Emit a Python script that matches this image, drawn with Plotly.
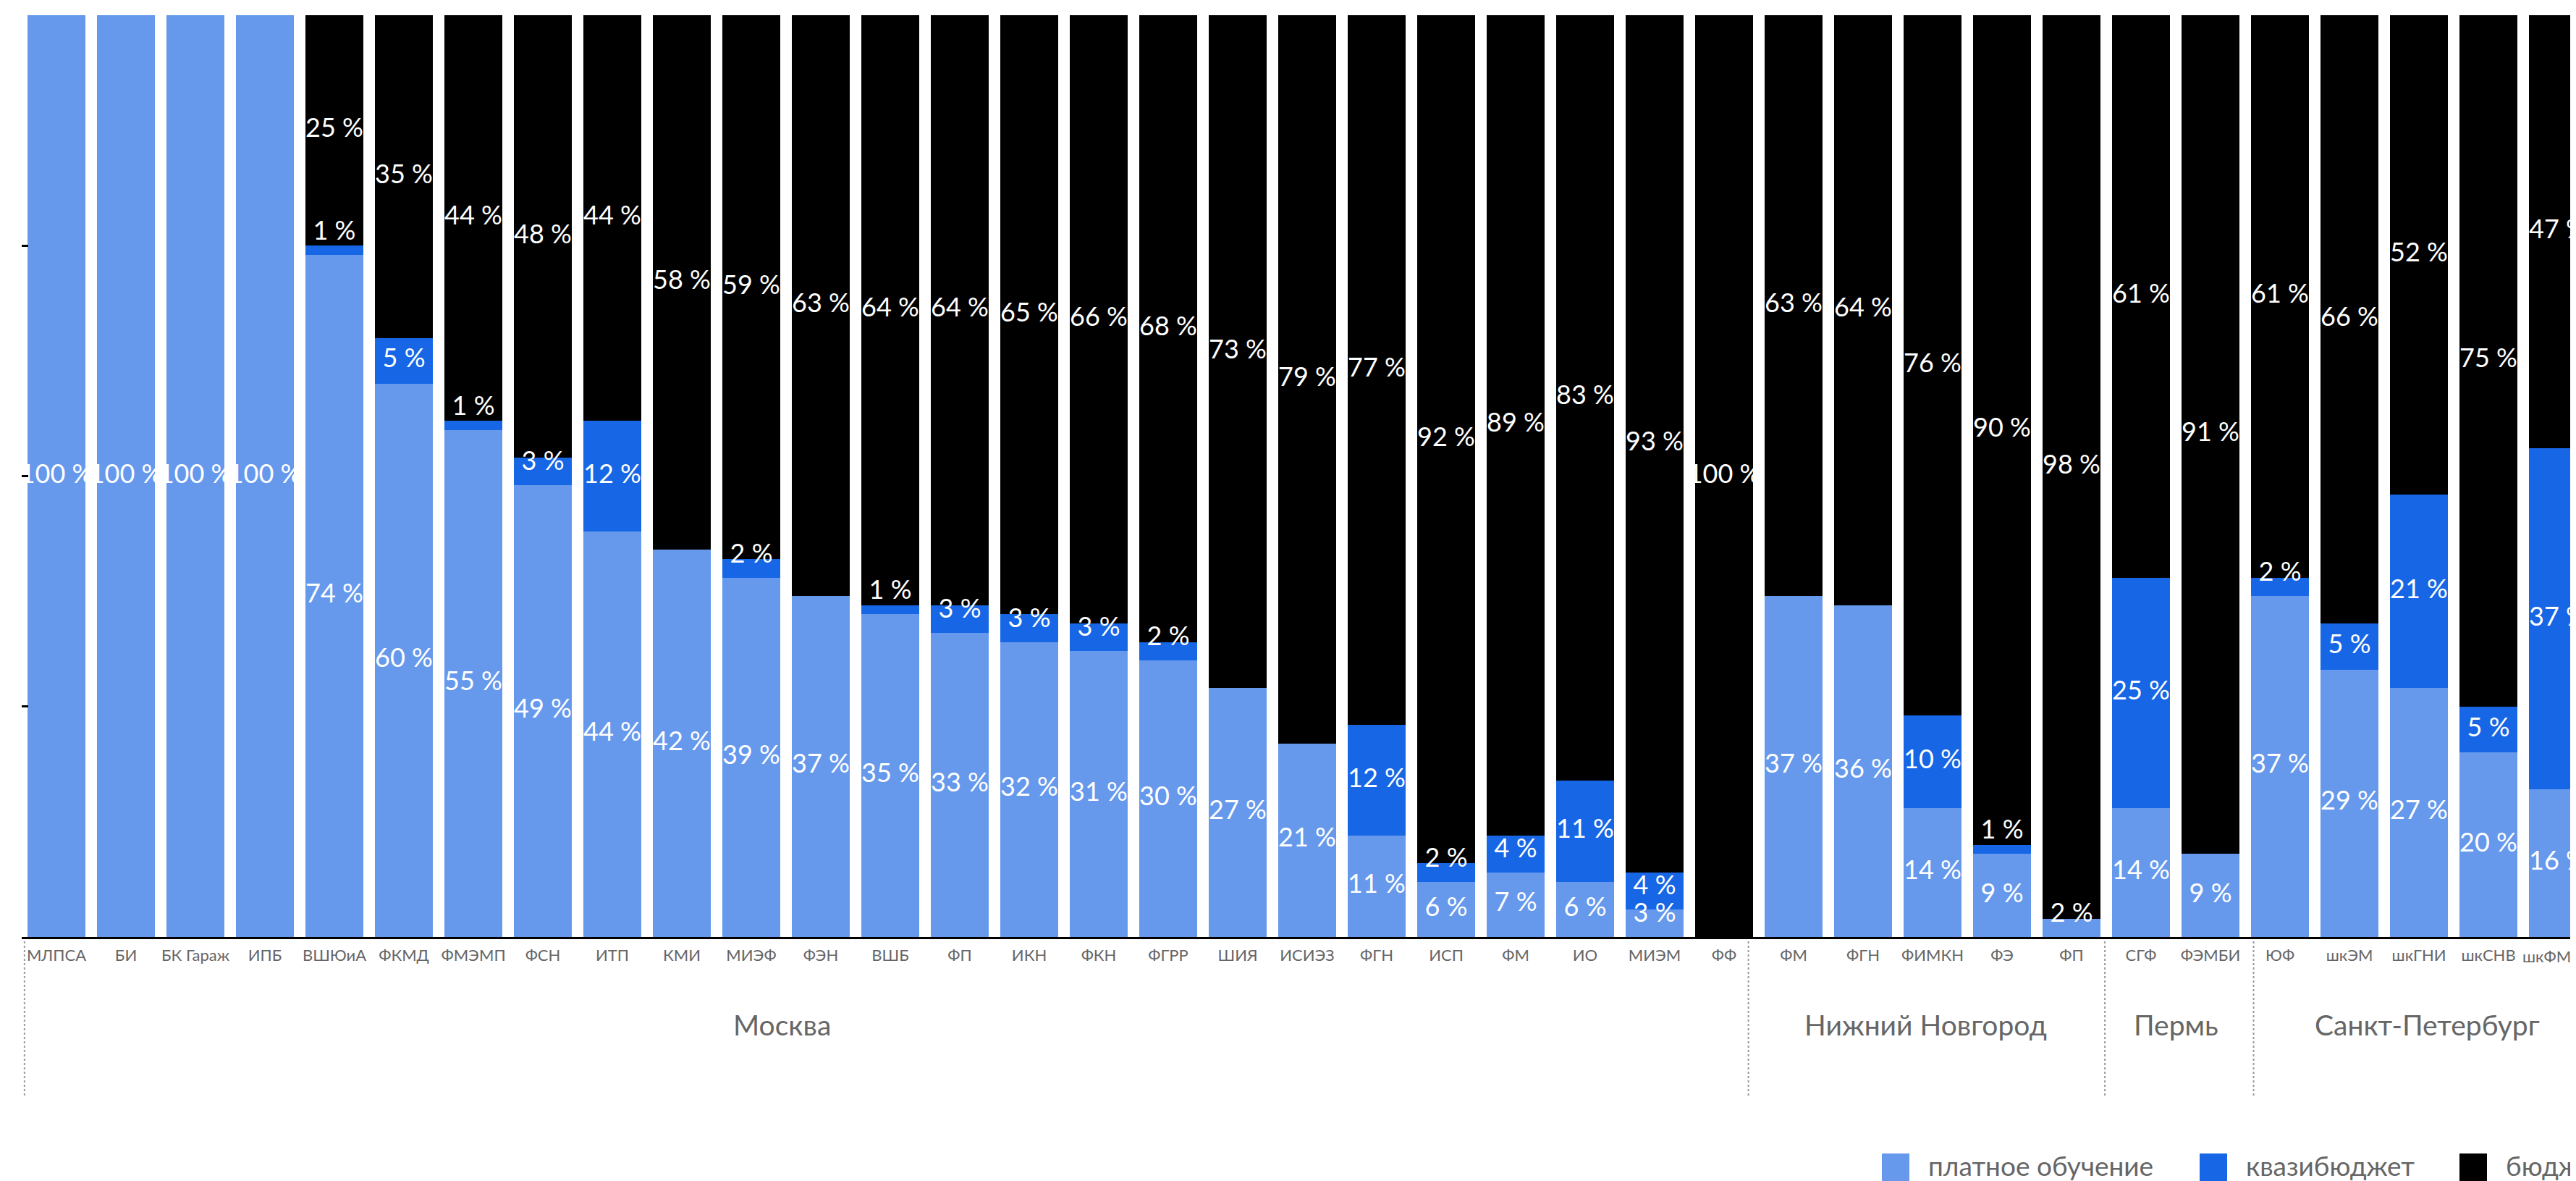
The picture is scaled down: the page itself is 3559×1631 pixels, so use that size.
import plotly.graph_objects as go

# ---------------- data ----------------
categories = [
    "МЛПСА", "БИ", "БК Гараж", "ИПБ", "ВШЮиА", "ФКМД", "ФМЭМП", "ФСН", "ИТП", "КМИ",
    "МИЭФ", "ФЭН", "ВШБ", "ФП", "ИКН", "ФКН", "ФГРР", "ШИЯ", "ИСИЭЗ", "ФГН",
    "ИСП", "ФМ", "ИО", "МИЭМ", "ФФ",
    "ФМ", "ФГН", "ФИМКН", "ФЭ", "ФП",
    "СГФ", "ФЭМБИ",
    "ЮФ", "шкЭМ", "шкГНИ", "шкСНВ", "шкФМКН",
]
cities = ["Москва", "Нижний Новгород", "Пермь", "Санкт-Петербург"]
city_sizes = [25, 5, 2, 5]

paid = [100, 100, 100, 100, 74, 60, 55, 49, 44, 42,
        39, 37, 35, 33, 32, 31, 30, 27, 21, 11,
        6, 7, 6, 3, 0,
        37, 36, 14, 9, 2,
        14, 9,
        37, 29, 27, 20, 16]
quasi = [0, 0, 0, 0, 1, 5, 1, 3, 12, 0,
         2, 0, 1, 3, 3, 3, 2, 0, 0, 12,
         2, 4, 11, 4, 0,
         0, 0, 10, 1, 0,
         25, 0,
         2, 5, 21, 5, 37]
budget = [0, 0, 0, 0, 25, 35, 44, 48, 44, 58,
          59, 63, 64, 64, 65, 66, 68, 73, 79, 77,
          92, 89, 83, 93, 100,
          63, 64, 76, 90, 98,
          61, 91,
          61, 66, 52, 75, 47]

series_names = ["платное обучение", "квазибюджет", "бюджет"]
colors = ["#6699EC", "#1666E5", "#000000"]

FONT = "Lato, 'PT Sans', 'Noto Sans', sans-serif"
BODY = 8                      # default page margin of the html body
W, H = 3559 - BODY, 1631 - BODY
PL, AX = 30, 1294             # page x of plot left edge, page y of x axis
ML = PL - BODY
MT = 21 - BODY
MB = H - (AX - BODY)
plot_w = W - ML
plot_h = H - MT - MB

def py(page_y):
    return (AX - page_y) / plot_h

def px(page_x):
    return (page_x - PL) / plot_w

x = list(range(len(categories)))
series = [paid, quasi, budget]

fig = go.Figure()
for name, vals, col in zip(series_names, series, colors):
    fig.add_trace(go.Bar(
        x=x, y=vals, name=name, marker=dict(color=col, line=dict(width=0)),
        showlegend=False, hoverinfo="skip",
    ))

# labels: centred in segment, lifted for small segments
lift = 30.0 / plot_h * 100.0
lx, ly, lt = [], [], []
for i in x:
    base = 0.0
    for vals in series:
        v = vals[i]
        if v > 0:
            mid = base + v / 2.0
            lx.append(i)
            ly.append(max(mid, base + lift))
            lt.append(f"{v} %")
        base += v
fig.add_trace(go.Scatter(
    x=lx, y=ly, text=lt, mode="text", textposition="middle center",
    textfont=dict(family=FONT, size=36, color="white"),
    showlegend=False, hoverinfo="skip", cliponaxis=True,
))

x_right = -0.5 + 36.76

# group separators (slightly offset from category edges, as in the original) and labels
sep_offsets = [0.04, -0.15, -0.02, 0.12]
label_offsets = [-1.56, -0.1, 0.0, 0.12]
shapes = []
annotations = []
start = 0
for city, n, so, lo in zip(cities, city_sizes, sep_offsets, label_offsets):
    shapes.append(dict(type="line", xref="x", yref="paper",
                       x0=start - 0.5 + so, x1=start - 0.5 + so,
                       y0=py(1300), y1=py(1516),
                       line=dict(color="#999999", width=2, dash="dot")))
    annotations.append(dict(xref="x", yref="paper", x=start + (n - 1) / 2.0 + lo,
                            y=py(1415), text=city, showarrow=False,
                            xanchor="center", yanchor="middle",
                            font=dict(family=FONT, size=39, color="#666666")))
    start += n

# last category label sits at the page edge: draw it as text so it is clipped like the original
annotations.append(dict(xref="x", yref="paper", x=x[-1], y=py(1320),
                        text=categories[-1], showarrow=False,
                        xanchor="center", yanchor="middle",
                        font=dict(family=FONT, size=22, color="#666666")))

# manual legend (bottom right, runs off the edge like the original)
leg_x = [2600, 3039, 3398]
for name, col, lx0 in zip(series_names, colors, leg_x):
    shapes.append(dict(type="rect", xref="paper", yref="paper",
                       x0=px(lx0), x1=px(lx0 + 38),
                       y0=py(1640), y1=py(1593),
                       line=dict(width=0), fillcolor=col))
    annotations.append(dict(xref="paper", yref="paper",
                            x=px(lx0 + 62), y=py(1609),
                            text=name, showarrow=False, xanchor="left", yanchor="middle",
                            font=dict(family=FONT, size=37, color="#666666")))

tick_text = categories[:-1] + [""]

fig.update_layout(
    width=W, height=H,
    margin=dict(l=ML, r=0, t=MT, b=MB, pad=0),
    barmode="stack", bargap=16 / 96,
    plot_bgcolor="white", paper_bgcolor="white",
    shapes=shapes, annotations=annotations,
    xaxis=dict(range=[-0.5, x_right], tickmode="array", tickvals=x, ticktext=tick_text,
               tickfont=dict(family=FONT, size=22, color="#666666"),
               ticklabelstandoff=4,
               showline=True, linecolor="black", linewidth=3, ticks="",
               showgrid=False, zeroline=False, fixedrange=True),
    yaxis=dict(range=[0, 100], tickvals=[0, 25, 50, 75, 100], showticklabels=False,
               ticks="inside", ticklen=9, tickwidth=3, tickcolor="black",
               showline=False, showgrid=False, zeroline=False, fixedrange=True),
)

fig.write_html("out.html")
